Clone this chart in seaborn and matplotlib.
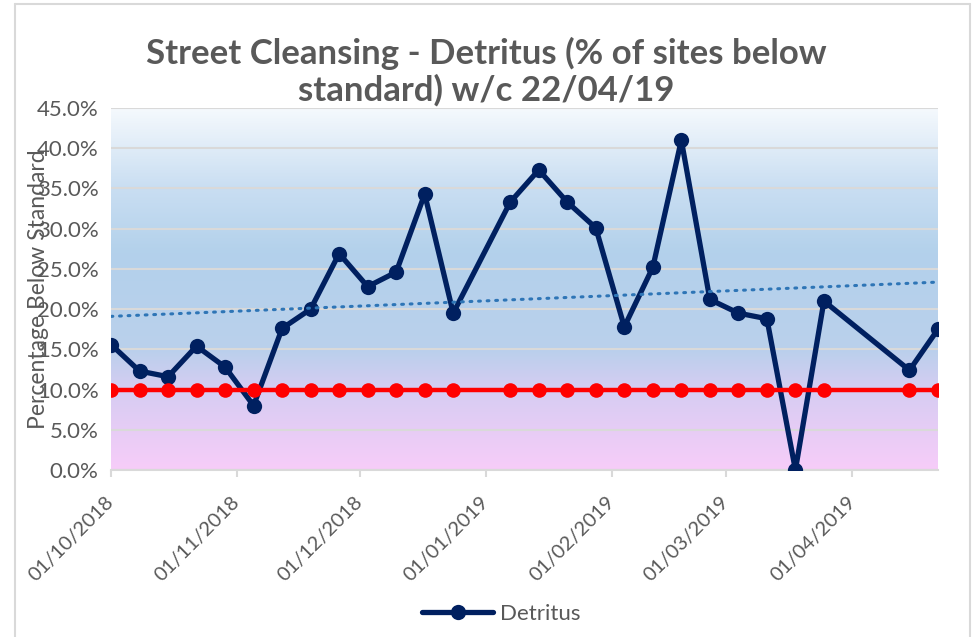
import numpy as np
import pandas as pd
import matplotlib
matplotlib.use("Agg")
import matplotlib.pyplot as plt
import matplotlib.dates as mdates
from matplotlib.colors import LinearSegmentedColormap
from matplotlib.ticker import PercentFormatter, MultipleLocator
from matplotlib.lines import Line2D
import seaborn as sns

# weekly survey results (w/c dates)
weeks = ["2018-10-01", "2018-10-08", "2018-10-15", "2018-10-22", "2018-10-29",
         "2018-11-05", "2018-11-12", "2018-11-19", "2018-11-26",
         "2018-12-03", "2018-12-10", "2018-12-17", "2018-12-24",
         "2019-01-07", "2019-01-14", "2019-01-21", "2019-01-28",
         "2019-02-04", "2019-02-11", "2019-02-18", "2019-02-25",
         "2019-03-04", "2019-03-11", "2019-03-18", "2019-03-25",
         "2019-04-15", "2019-04-22"]
detritus = [15.6, 12.3, 11.6, 15.4, 12.8,
            8.0, 17.6, 20.0, 26.9,
            22.8, 24.6, 34.3, 19.5,
            33.3, 37.3, 33.3, 30.1,
            17.8, 25.2, 41.0, 21.2,
            19.5, 18.8, 0.0, 21.0,
            12.4, 17.5]
standard = [10.0, 10.0, 10.0, 10.0, 10.0,
            10.0, 10.0, 10.0, 10.0,
            10.0, 10.0, 10.0, 10.0,
            10.0, 10.0, 10.0, 10.0,
            10.0, 10.0, 10.0, 10.0,
            10.0, 10.0, 10.0, 10.0,
            10.0, 10.0]
month_ticks = ["2018-10-01", "2018-11-01", "2018-12-01", "2019-01-01",
               "2019-02-01", "2019-03-01", "2019-04-01"]

df = pd.DataFrame({"week": pd.to_datetime(weeks),
                   "Detritus": detritus,
                   "Standard": standard})

sns.set_theme(style="white")
plt.rcParams["font.family"] = ["Lato", "DejaVu Sans"]

grey = "#595959"
navy = "#002060"

fig = plt.figure(figsize=(9.73, 6.37), dpi=100)
ax = fig.add_axes([111 / 973, 1 - 470 / 637, (938 - 111) / 973, (470 - 108) / 637])

# gradient plot area background
cmap = LinearSegmentedColormap.from_list("bg", [
    (0.00, "#F7CDF9"),
    (0.22, "#D6CCF2"),
    (0.33, "#BAD0EC"),
    (0.60, "#B3D1EB"),
    (0.78, "#C9DEF2"),
    (1.00, "#F5F9FD"),
])
grad = np.linspace(0, 1, 256).reshape(-1, 1)
ax.imshow(grad, cmap=cmap, origin="lower", aspect="auto",
          extent=[0, 1, 0, 1], transform=ax.transAxes, zorder=0)

ax.yaxis.grid(True, color="#D9D9D9", linewidth=1.5, zorder=1)
ax.set_axisbelow(True)

sns.lineplot(data=df, x="week", y="Detritus", ax=ax, color=navy,
             linewidth=3.8, marker="o", markersize=11, markeredgewidth=0,
             zorder=3, legend=False)

# linear trendline over the detritus series
xnum = mdates.date2num(df["week"])
coef = np.polyfit(xnum, df["Detritus"], 1)
xt = np.array([xnum.min(), xnum.max()])
ax.plot(mdates.num2date(xt), np.polyval(coef, xt), color="#2E75B6",
        linewidth=2.2, linestyle=(0, (0.6, 2.2)), dash_capstyle="round",
        zorder=4)

sns.lineplot(data=df, x="week", y="Standard", ax=ax, color="#FF0000",
             linewidth=3.2, marker="o", markersize=10.5, markeredgewidth=0,
             zorder=5, legend=False)

ax.set_xlim(df["week"].min(), df["week"].max())
ax.set_ylim(0, 45)
ax.yaxis.set_major_locator(MultipleLocator(5))
ax.yaxis.set_major_formatter(PercentFormatter(xmax=100, decimals=1))
ax.set_xticks(pd.to_datetime(month_ticks))
ax.xaxis.set_major_formatter(mdates.DateFormatter("%d/%m/%Y"))

for s in ["top", "right", "left"]:
    ax.spines[s].set_visible(False)
ax.spines["bottom"].set_color("#D9D9D9")
ax.spines["bottom"].set_linewidth(1.5)

ax.tick_params(axis="y", length=0, pad=9, labelsize=16, labelcolor=grey)
ax.tick_params(axis="x", length=5, width=1.5, color="#D9D9D9", direction="out",
               pad=16, labelsize=14.5, labelcolor=grey, bottom=True)
for lab in ax.get_xticklabels():
    lab.set_rotation(45)
    lab.set_ha("right")
    lab.set_va("center")
    lab.set_rotation_mode("anchor")

ax.set_xlabel("")
ax.set_ylabel("Percentage Below Standard", fontsize=16.5, color=grey)
ax.yaxis.set_label_coords(-62 / 827, 0.5)

fig.text(0.5, 1 - 72 / 637,
         "Street Cleansing - Detritus (% of sites below\nstandard) w/c 22/04/19",
         ha="center", va="center", fontsize=25, fontweight="bold",
         color=grey, linespacing=1.15)

handle = Line2D([], [], color=navy, linewidth=3.8, marker="o",
                markersize=11, markeredgewidth=0)
fig.legend([handle], ["Detritus"], loc="center", bbox_to_anchor=(0.515, 1 - 614 / 637),
           frameon=False, fontsize=16, labelcolor=grey, handlelength=3.2,
           handletextpad=0.3)

# chart area border
border = "#D9D9D9"
fig.add_artist(Line2D([15 / 973, 15 / 973], [0, 1 - 4 / 637], color=border, lw=1.5))
fig.add_artist(Line2D([15 / 973, 970 / 973], [1 - 4 / 637, 1 - 4 / 637], color=border, lw=1.5))
fig.add_artist(Line2D([970 / 973, 970 / 973], [0, 1 - 4 / 637], color=border, lw=1.5))

fig.savefig("out.png", dpi=100)
